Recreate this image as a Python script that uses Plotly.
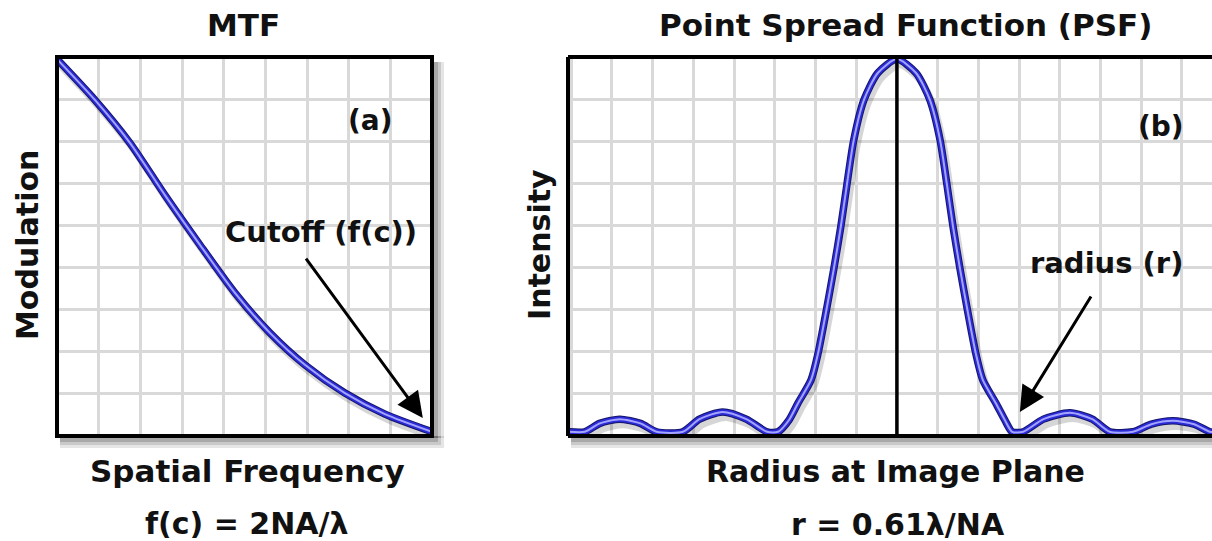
import plotly.graph_objects as go
import numpy as np

# ---------------- data ----------------
# Panel (a): MTF curve, in grid units (9 x 9 grid)
mtf_x = [0.0, 0.91, 1.75, 2.59, 3.43, 4.27, 5.11, 5.95, 6.91, 7.87, 9.0]
mtf_y = [8.95, 7.98, 6.96, 5.72, 4.54, 3.40, 2.45, 1.69, 1.02, 0.52, 0.10]

# Panel (b): PSF curve, in grid units (centre at 0)
psf_x = [-8.05, -7.67, -7.30, -6.81, -6.30, -5.90, -5.26, -4.85, -4.28, -3.70, -3.19,
         -2.92, -2.65, -2.43, -2.11, -1.94, -1.74, -1.55, -1.38, -1.23, -1.06, -0.81,
         -0.47, 0.0, 0.47, 0.81, 1.06, 1.23, 1.38, 1.55, 1.74, 1.94, 2.11, 2.43, 2.65,
         2.83, 3.10, 3.60, 4.25, 4.80, 5.23, 5.80, 6.25, 6.78, 7.30, 7.69, 7.80]
psf_y = [0.10, 0.10, 0.30, 0.40, 0.30, 0.10, 0.10, 0.40, 0.57, 0.40, 0.10,
         0.10, 0.38, 0.78, 1.33, 1.95, 2.95, 3.97, 4.96, 5.96, 7.03, 7.98,
         8.62, 8.95, 8.62, 7.98, 7.03, 5.96, 4.96, 3.97, 2.95, 1.95, 1.33, 0.78, 0.38,
         0.10, 0.10, 0.40, 0.55, 0.40, 0.10, 0.10, 0.28, 0.36, 0.28, 0.10, 0.10]

titles = ["MTF", "Point Spread Function (PSF)"]
x_titles = ["Spatial Frequency", "Radius at Image Plane"]
x_formulas = ["f(c) = 2NA/λ", "r = 0.61λ/NA"]
y_titles = ["Modulation", "Intensity"]
panel_tags = ["(a)", "(b)"]
callouts = ["Cutoff (f(c))", "radius (r)"]

# ---------------- figure ----------------
W, H = 1212, 541
FONT = "DejaVu Sans"
GRID = "#d9d9d9"


def fx(p):
    return p / W


def fy(p):
    return (H - p) / H


fig = go.Figure()


def add_curve(xs, ys, xa, ya):
    xs = np.asarray(xs, float)
    ys = np.asarray(ys, float)
    # soft shadow
    fig.add_trace(go.Scatter(x=xs + 0.07, y=ys - 0.12, mode="lines", xaxis=xa, yaxis=ya,
                             line=dict(color="rgba(0,0,0,0.16)", width=8, shape="spline", smoothing=0.7),
                             hoverinfo="skip"))
    fig.add_trace(go.Scatter(x=xs, y=ys, mode="lines", xaxis=xa, yaxis=ya,
                             line=dict(color="#15156a", width=7.5, shape="spline", smoothing=0.7),
                             hoverinfo="skip"))
    fig.add_trace(go.Scatter(x=xs, y=ys, mode="lines", xaxis=xa, yaxis=ya,
                             line=dict(color="#2b2bd8", width=5.5, shape="spline", smoothing=0.7),
                             hoverinfo="skip"))
    fig.add_trace(go.Scatter(x=xs, y=ys, mode="lines", xaxis=xa, yaxis=ya,
                             line=dict(color="#a4a4ff", width=2, shape="spline", smoothing=0.7),
                             hoverinfo="skip"))


add_curve(mtf_x, mtf_y, "x", "y")
add_curve(psf_x, psf_y, "x2", "y2")

ax_common = dict(showgrid=True, gridcolor=GRID, gridwidth=3, showticklabels=False,
                 zeroline=False, ticks="", showline=False, fixedrange=True)
ydom = [fy(436), fy(57)]

fig.update_layout(
    width=W, height=H,
    margin=dict(l=0, r=0, t=0, b=0),
    paper_bgcolor="white", plot_bgcolor="white",
    showlegend=False,
    xaxis=dict(domain=[fx(57), fx(432)], range=[0, 9], tick0=0, dtick=1, anchor="y", **ax_common),
    yaxis=dict(domain=ydom, range=[0, 9], tick0=0, dtick=1, anchor="x", **ax_common),
    xaxis2=dict(domain=[fx(568), 1.0], range=[-8.08, 7.74], tick0=0, dtick=1, anchor="y2", **ax_common),
    yaxis2=dict(domain=ydom, range=[0, 9], tick0=0, dtick=1, anchor="x2", **ax_common),
)

shapes = []
# frame shadows
for op, w in [(0.10, 10), (0.12, 7), (0.16, 4)]:
    shapes.append(dict(type="rect", xref="paper", yref="paper", layer="below",
                       x0=fx(60), x1=fx(434 + w), y0=fy(436), y1=fy(438 + w),
                       fillcolor=f"rgba(0,0,0,{op})", line=dict(width=0)))
    shapes.append(dict(type="rect", xref="paper", yref="paper", layer="below",
                       x0=fx(434), x1=fx(434 + w), y0=fy(438), y1=fy(62),
                       fillcolor=f"rgba(0,0,0,{op})", line=dict(width=0)))
    shapes.append(dict(type="rect", xref="paper", yref="paper", layer="below",
                       x0=fx(571), x1=1.0, y0=fy(436), y1=fy(438 + w),
                       fillcolor=f"rgba(0,0,0,{op})", line=dict(width=0)))
# frame (a)
shapes.append(dict(type="rect", xref="paper", yref="paper",
                   x0=fx(57), x1=fx(432), y0=fy(436), y1=fy(57),
                   line=dict(color="black", width=4), layer="above"))
# frame (b): left, top, bottom
for (x0, y0, x1, y1) in [(568, 436, 568, 57), (568, 57, W, 57), (568, 436, W, 436)]:
    shapes.append(dict(type="line", xref="paper", yref="paper",
                       x0=fx(x0), y0=fy(y0), x1=fx(x1), y1=fy(y1),
                       line=dict(color="black", width=4), layer="above"))
# PSF centre line
shapes.append(dict(type="line", xref="x2", yref="y2", x0=0, x1=0, y0=0, y1=9,
                   line=dict(color="black", width=3.5), layer="above"))
fig.update_layout(shapes=shapes)

ann = []


def txt(s, x, y, size, xref="paper", yref="paper", angle=0):
    ann.append(dict(text=f"<b>{s}</b>", x=x, y=y, xref=xref, yref=yref, showarrow=False,
                    xanchor="center", yanchor="middle", textangle=angle,
                    font=dict(family=FONT, size=size, color="#111111")))


txt(titles[0], fx(243), fy(25), 31)
txt(titles[1], fx(905), fy(25), 31)
txt(x_titles[0], fx(247), fy(471), 31)
txt(x_titles[1], fx(895), fy(472), 30)
txt(x_formulas[0], fx(246), fy(523), 30)
txt(x_formulas[1], fx(898), fy(524), 30)
txt(y_titles[0], fx(28), fy(245), 30, angle=-90)
txt(y_titles[1], fx(540), fy(245), 30, angle=-90)
txt(panel_tags[0], 7.53, 7.5, 28, xref="x", yref="y")
txt(panel_tags[1], 6.49, 7.34, 28, xref="x2", yref="y2")
txt(callouts[0], 6.33, 4.85, 29, xref="x", yref="y")
txt(callouts[1], 5.14, 4.11, 29, xref="x2", yref="y2")

# arrows
ann.append(dict(x=8.78, y=0.43, ax=5.95, ay=4.25, xref="x", yref="y", axref="x", ayref="y",
                text="", showarrow=True, arrowhead=2, arrowsize=1.7, arrowwidth=3, arrowcolor="black"))
ann.append(dict(x=3.02, y=0.57, ax=4.79, ay=3.35, xref="x2", yref="y2", axref="x2", ayref="y2",
                text="", showarrow=True, arrowhead=2, arrowsize=1.7, arrowwidth=3, arrowcolor="black"))
fig.update_layout(annotations=ann)

fig.write_html("out.html", config={"displayModeBar": False},
               post_script="document.body.style.margin='0px';")
